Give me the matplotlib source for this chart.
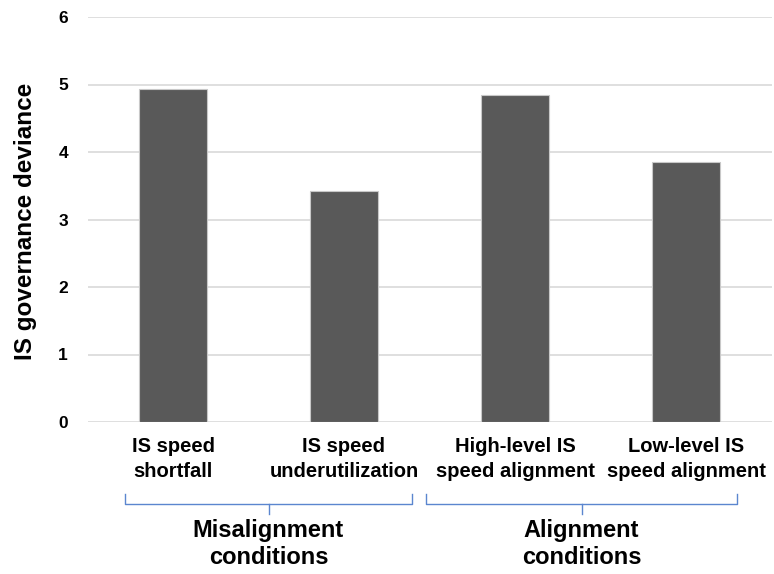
import numpy as np
import matplotlib.pyplot as plt

plt.rcParams['font.family'] = ['Liberation Sans', 'DejaVu Sans']
plt.rcParams['font.weight'] = 'bold'

categories = ['IS speed\nshortfall', 'IS speed\nunderutilization',
              'High-level IS\nspeed alignment', 'Low-level IS\nspeed alignment']
values = [4.94, 3.42, 4.84, 3.85]
groups = ['Misalignment\nconditions', 'Alignment\nconditions']
y_ticks = [0, 1, 2, 3, 4, 5, 6]

W, H = 774, 574
fig = plt.figure(figsize=(W / 100, H / 100), dpi=100)
ax = fig.add_axes([87.5 / W, 1 - 422 / H, 684 / W, 405 / H])

x = np.arange(len(categories))
ax.bar(x, values, width=0.4, color='#595959', edgecolor='#c8c8c8',
       linewidth=0.8, zorder=3)

ax.set_xlim(-0.5, len(categories) - 0.5)
ax.set_ylim(0, 6)
ax.set_yticks(y_ticks)
ax.set_yticklabels([str(t) for t in y_ticks], fontsize=12.5, fontweight='bold')
ax.tick_params(axis='y', length=0, pad=14)
ax.set_xticks(x)
ax.set_xticklabels(categories, fontsize=14.5, fontweight='bold', linespacing=1.4)
ax.tick_params(axis='x', length=0, pad=11)
ax.grid(axis='y', color='#d9d9d9', linewidth=1.2, zorder=0)
for s in ax.spines.values():
    s.set_visible(False)

ax.set_ylabel('IS governance deviance', fontsize=17.5, fontweight='bold')
ax.yaxis.set_label_coords(-(87.5 - 37) / 684, 0.495)

# group brackets (pixel positions of the annotation, not data)
brackets = [(125, 412), (426, 737)]
for (x0, x1), g in zip(brackets, groups):
    xm = (x0 + x1) / 2
    xs = np.array([x0, x0, x1, x1]) / W
    ys = 1 - np.array([494, 504, 504, 494]) / H
    fig.add_artist(plt.Line2D(xs, ys, color='#5b86cf', linewidth=1.0))
    fig.add_artist(plt.Line2D([xm / W, xm / W], [1 - 504 / H, 1 - 514 / H],
                              color='#5b86cf', linewidth=1.0))
    fig.text(xm / W, 1 - 544 / H, g, ha='center', va='center',
             fontsize=17, fontweight='bold', linespacing=1.25)

fig.savefig('out.png', dpi=100)
